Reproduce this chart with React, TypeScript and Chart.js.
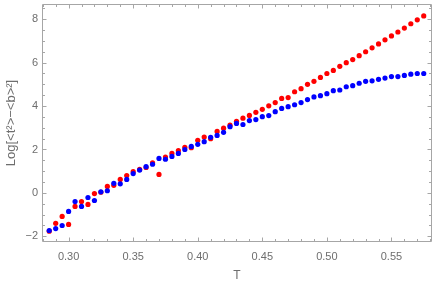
import React, { useEffect, useRef } from "react";
import { Chart, registerables } from "chart.js";

Chart.register(...registerables);

// Temperatures (x values)
const temps = [
  0.285, 0.29, 0.295, 0.3, 0.305, 0.31, 0.315, 0.32, 0.325, 0.33,
  0.335, 0.34, 0.345, 0.35, 0.355, 0.36, 0.365, 0.37, 0.375, 0.38,
  0.385, 0.39, 0.395, 0.4, 0.405, 0.41, 0.415, 0.42, 0.425, 0.43,
  0.435, 0.44, 0.445, 0.45, 0.455, 0.46, 0.465, 0.47, 0.475, 0.48,
  0.485, 0.49, 0.495, 0.5, 0.505, 0.51, 0.515, 0.52, 0.525, 0.53,
  0.535, 0.54, 0.545, 0.55, 0.555, 0.56, 0.565, 0.57, 0.575,
];

// Red series
const redValues = [
  -1.76, -1.4, -1.08, -1.45, -0.62, -0.4, -0.53, -0.03, 0.03, 0.3,
  0.35, 0.62, 0.8, 0.98, 1.08, 1.17, 1.39, 0.85, 1.65, 1.82,
  1.95, 2.1, 2.08, 2.42, 2.57, 2.5, 2.83, 2.98, 3.12, 3.3,
  3.44, 3.57, 3.71, 3.85, 4.01, 4.16, 4.35, 4.39, 4.66, 4.8,
  5.0, 5.14, 5.32, 5.5, 5.64, 5.83, 6.0, 6.14, 6.32, 6.5,
  6.68, 6.86, 7.05, 7.23, 7.41, 7.59, 7.79, 7.97, 8.15,
];

// Blue series
const blueValues = [
  -1.73, -1.64, -1.5, -0.85, -0.4, -0.62, -0.21, -0.35, 0.05, 0.1,
  0.44, 0.42, 0.62, 0.89, 1.05, 1.21, 1.32, 1.59, 1.55, 1.68,
  1.82, 2.0, 2.14, 2.24, 2.36, 2.56, 2.65, 2.79, 3.05, 3.2,
  3.15, 3.33, 3.38, 3.51, 3.56, 3.74, 3.89, 3.97, 4.06, 4.16,
  4.3, 4.42, 4.48, 4.57, 4.71, 4.74, 4.89, 4.94, 5.05, 5.14,
  5.16, 5.23, 5.29, 5.36, 5.36, 5.41, 5.47, 5.5, 5.5,
];

// Tick labels / positions
const xMajorTicks = [0.3, 0.35, 0.4, 0.45, 0.5, 0.55];
const xMinorTicks = [
  0.28, 0.29, 0.31, 0.32, 0.33, 0.34, 0.36, 0.37, 0.38, 0.39,
  0.41, 0.42, 0.43, 0.44, 0.46, 0.47, 0.48, 0.49, 0.51, 0.52,
  0.53, 0.54, 0.56, 0.57, 0.58,
];
const yMajorTicks = [-2, 0, 2, 4, 6, 8];
const yMinorTicks = [
  -1.5, -1, -0.5, 0.5, 1, 1.5, 2.5, 3, 3.5, 4.5, 5, 5.5, 6.5, 7, 7.5, 8.5,
];

const xLabel = "T";
const yLabel = "Log[<t\u00b2>\u2212<b>\u00b2]";

const FRAME_COLOR = "#a6a6a6";
const TEXT_COLOR = "#6e6e6e";
const FONT_FAMILY = "'Liberation Sans', Arial, sans-serif";

const framePlugin = {
  id: "mmaFrame",
  afterDraw(chart: any) {
    const { ctx, chartArea } = chart;
    const { left, right, top, bottom } = chartArea;
    const xs = chart.scales.x;
    const ys = chart.scales.y;
    ctx.save();
    ctx.strokeStyle = FRAME_COLOR;
    ctx.lineWidth = 1;
    ctx.beginPath();
    const L = Math.round(left) + 0.5;
    const R = Math.round(right) - 0.5;
    const T = Math.round(top) + 0.5;
    const B = Math.round(bottom) - 0.5;
    ctx.rect(L, T, R - L, B - T);
    const xTick = (v: number, len: number) => {
      const px = Math.round(xs.getPixelForValue(v)) + 0.5;
      if (px < L || px > R) return;
      ctx.moveTo(px, B);
      ctx.lineTo(px, B - len);
      ctx.moveTo(px, T);
      ctx.lineTo(px, T + len);
    };
    const yTick = (v: number, len: number) => {
      const py = Math.round(ys.getPixelForValue(v)) + 0.5;
      if (py < T || py > B) return;
      ctx.moveTo(L, py);
      ctx.lineTo(L + len, py);
      ctx.moveTo(R, py);
      ctx.lineTo(R - len, py);
    };
    xMajorTicks.forEach((v) => xTick(v, 4));
    xMinorTicks.forEach((v) => xTick(v, 2.5));
    yMajorTicks.forEach((v) => yTick(v, 4));
    yMinorTicks.forEach((v) => yTick(v, 2.5));
    ctx.stroke();
    ctx.restore();
  },
};

export default function App() {
  const ref = useRef<HTMLCanvasElement>(null);
  useEffect(() => {
    if (!ref.current) return;
    const chart = new Chart(ref.current, {
      type: "scatter",
      data: {
        datasets: [
          {
            label: "blue",
            data: temps.map((t, i) => ({ x: t, y: blueValues[i] })),
            backgroundColor: "#0000ff",
            borderWidth: 0,
            pointRadius: 2.6,
          },
          {
            label: "red",
            data: temps.map((t, i) => ({ x: t, y: redValues[i] })),
            backgroundColor: "#ff0000",
            borderWidth: 0,
            pointRadius: 2.6,
          },
        ],
      },
      options: {
        animation: false,
        responsive: false,
        events: [],
        layout: { padding: { top: 1, right: 2, left: 0, bottom: 0 } },
        plugins: {
          legend: { display: false },
          tooltip: { enabled: false },
        },
        scales: {
          x: {
            type: "linear",
            min: 0.2794,
            max: 0.5814,
            grid: { display: false, drawTicks: false },
            border: { display: false },
            afterBuildTicks: (scale: any) => {
              scale.ticks = xMajorTicks.map((v) => ({ value: v }));
            },
            afterFit: (scale: any) => {
              scale.height = 43;
              scale.paddingLeft = 0;
              scale.paddingRight = 0;
            },
            ticks: {
              autoSkip: false,
              maxRotation: 0,
              padding: 8,
              color: TEXT_COLOR,
              font: { family: FONT_FAMILY, size: 11 },
              callback: (v: any) => Number(v).toFixed(2),
            },
            title: {
              display: true,
              text: xLabel,
              color: TEXT_COLOR,
              font: { family: FONT_FAMILY, size: 12 },
              padding: { top: 0, bottom: 2 },
            },
          },
          y: {
            type: "linear",
            min: -2.26,
            max: 8.7,
            grid: { display: false, drawTicks: false },
            border: { display: false },
            afterBuildTicks: (scale: any) => {
              scale.ticks = yMajorTicks.map((v) => ({ value: v }));
            },
            afterFit: (scale: any) => {
              scale.width = 42;
              scale.paddingTop = 0;
              scale.paddingBottom = 0;
            },
            ticks: {
              autoSkip: false,
              padding: 4,
              color: TEXT_COLOR,
              font: { family: FONT_FAMILY, size: 11 },
              callback: (v: any) => {
                const n = Number(v);
                return n < 0 ? "\u2212" + Math.abs(n) : String(n);
              },
            },
            title: {
              display: true,
              text: yLabel,
              color: TEXT_COLOR,
              font: { family: FONT_FAMILY, size: 13 },
              padding: { top: 4, bottom: 0 },
            },
          },
        },
      },
      plugins: [framePlugin],
    });
    return () => chart.destroy();
  }, []);
  return (
    <div style={{ position: "absolute", left: 0, top: 0, width: 436, height: 285, background: "#fff" }}>
      <canvas ref={ref} width={436} height={285} style={{ display: "block" }} />
    </div>
  );
}
